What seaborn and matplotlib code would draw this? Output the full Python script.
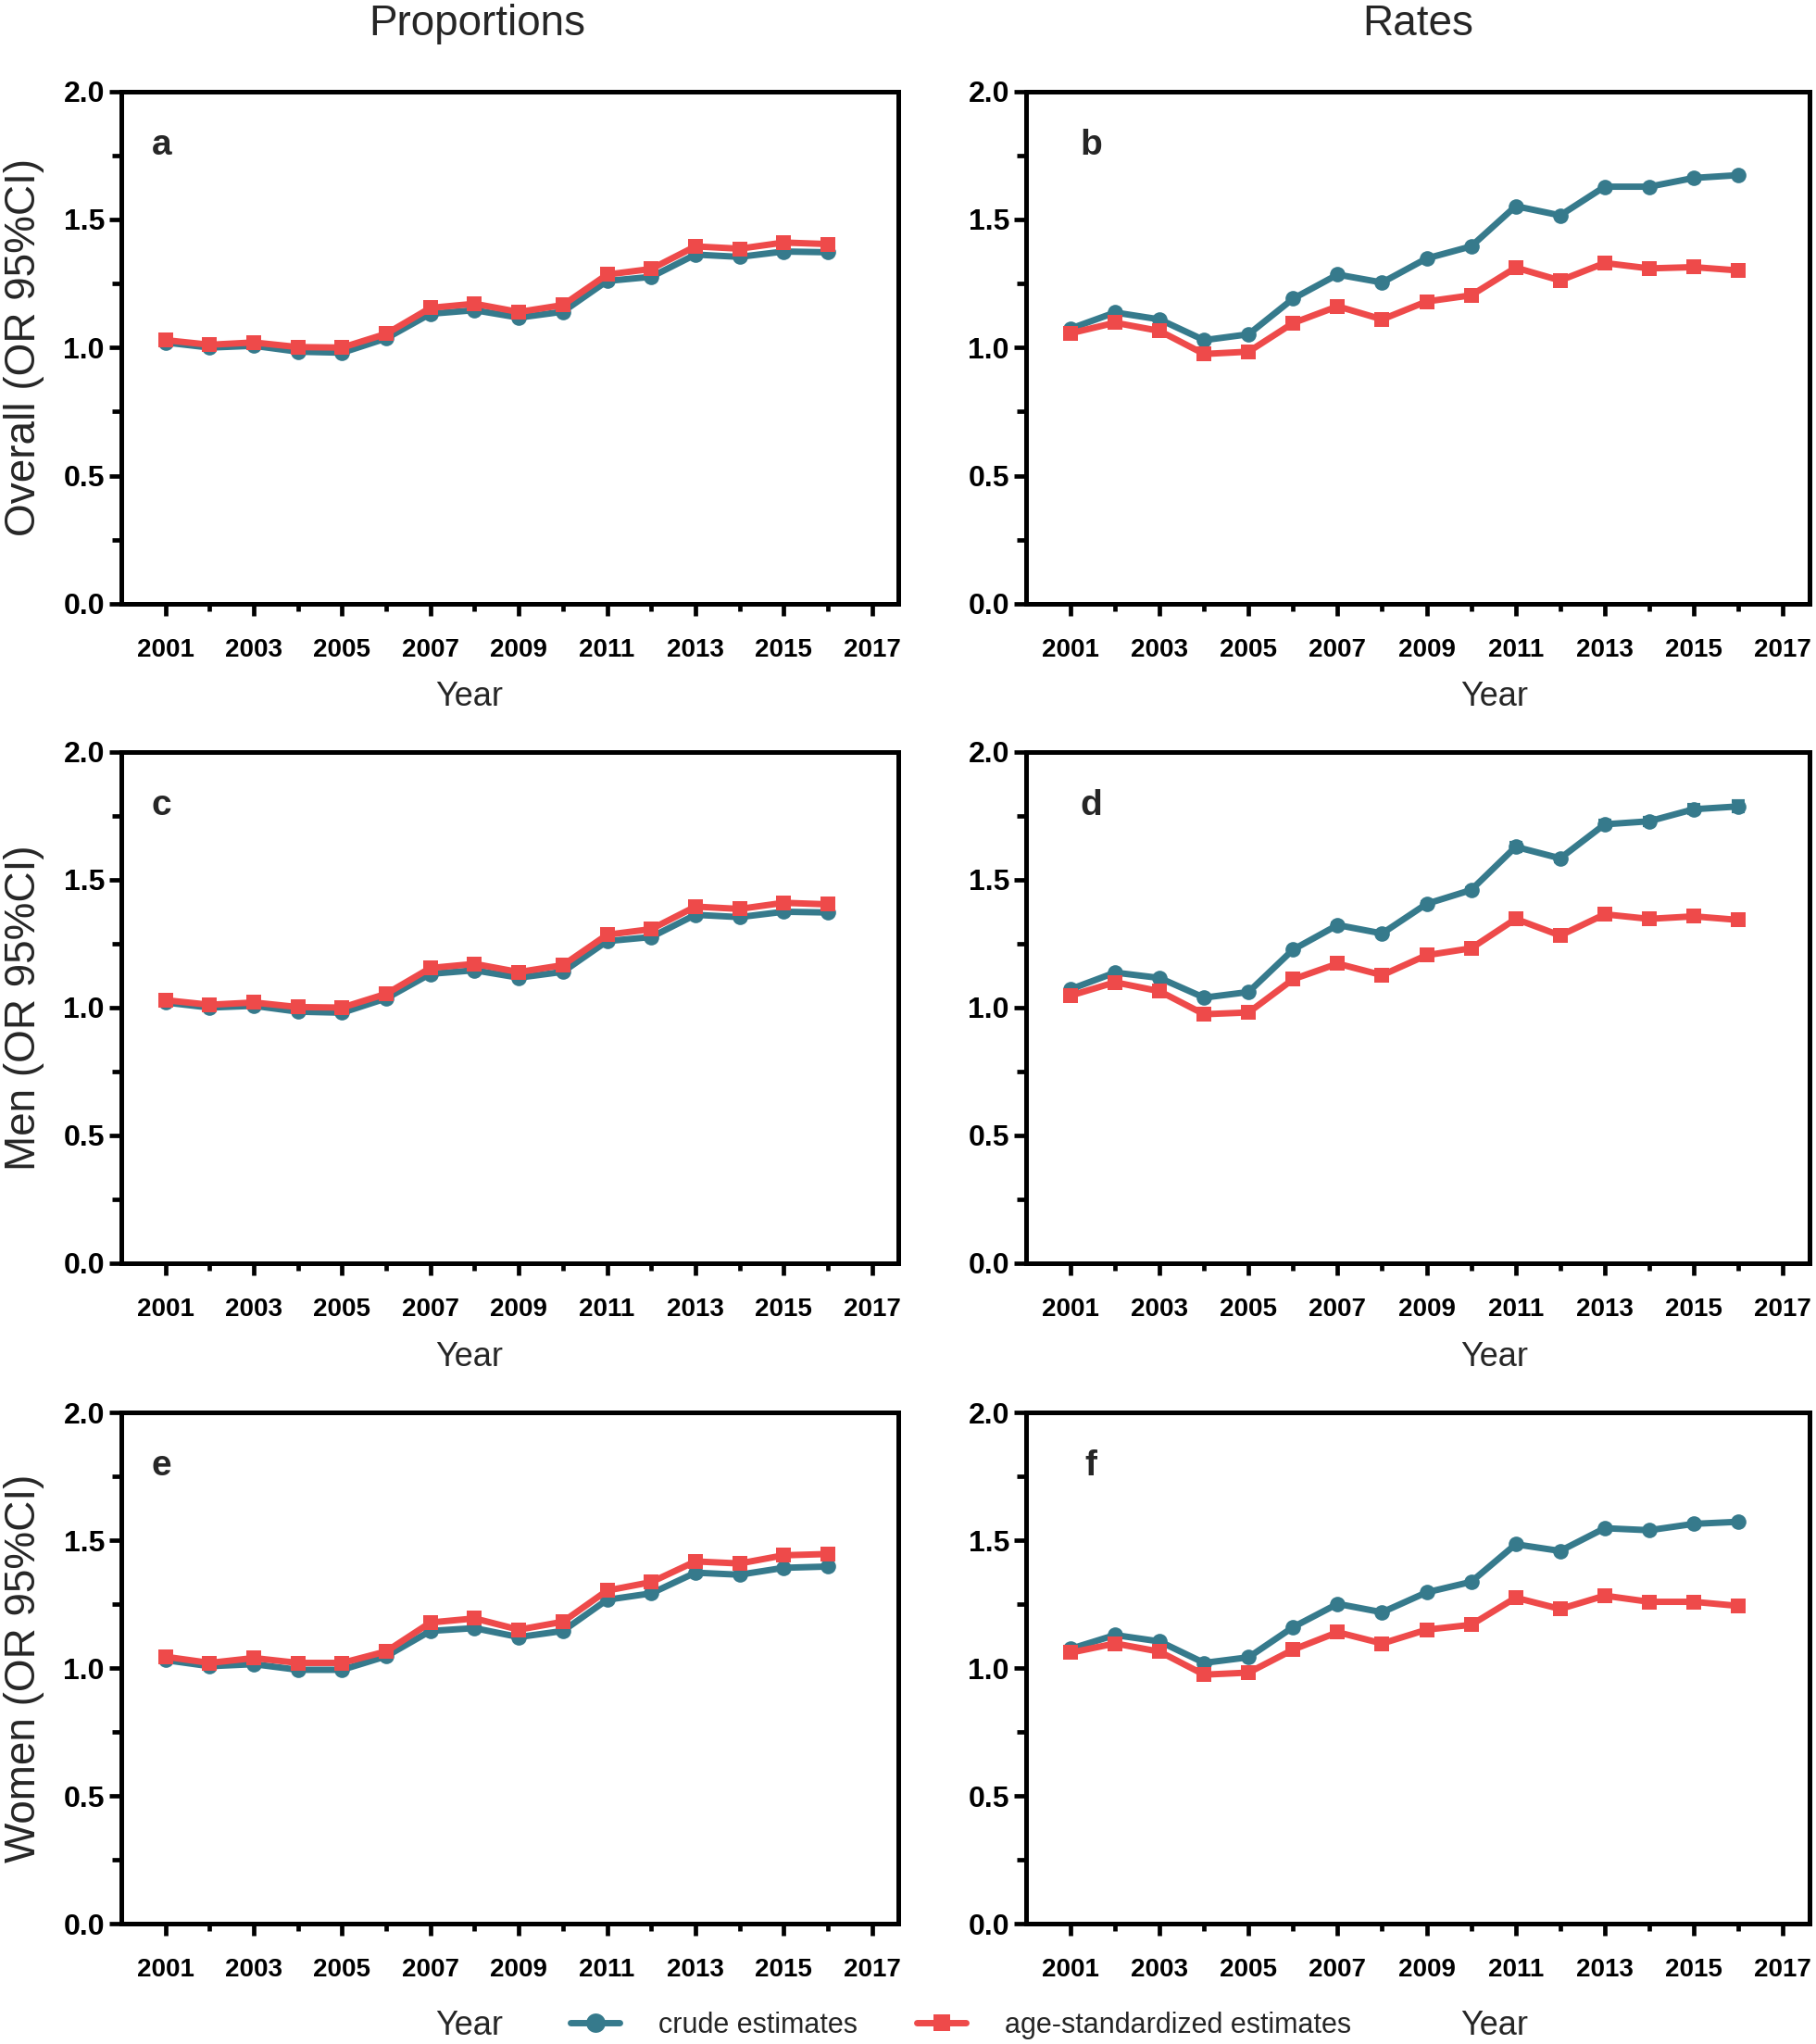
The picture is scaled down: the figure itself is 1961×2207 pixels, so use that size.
import matplotlib
matplotlib.use("Agg")
import matplotlib.pyplot as plt
from matplotlib.lines import Line2D
import numpy as np
import pandas as pd
import seaborn as sns

# ----------------------------
#  Data
# ----------------------------
years = list(range(2001, 2017))

# Proportions, overall
a_crude = [1.02, 1.00, 1.007, 0.984, 0.98, 1.036, 1.132, 1.146, 1.117, 1.14, 1.26, 1.276, 1.363, 1.354, 1.375, 1.372]
a_std   = [1.029, 1.011, 1.02, 1.002, 1.0, 1.054, 1.155, 1.171, 1.139, 1.166, 1.285, 1.307, 1.395, 1.386, 1.41, 1.404]

# Rates, overall
b_crude = [1.074, 1.137, 1.110, 1.029, 1.052, 1.191, 1.285, 1.254, 1.348, 1.395, 1.552, 1.516, 1.628, 1.628, 1.662, 1.673]
b_std   = [1.056, 1.097, 1.065, 0.975, 0.984, 1.096, 1.161, 1.110, 1.180, 1.204, 1.312, 1.262, 1.330, 1.309, 1.314, 1.301]

# Proportions, men
c_crude = [1.02, 1.00, 1.007, 0.984, 0.98, 1.036, 1.132, 1.146, 1.117, 1.14, 1.26, 1.276, 1.363, 1.354, 1.375, 1.372]
c_std   = [1.029, 1.011, 1.02, 1.002, 1.0, 1.054, 1.155, 1.171, 1.139, 1.166, 1.285, 1.307, 1.395, 1.386, 1.41, 1.404]

# Rates, men
d_crude = [1.072, 1.137, 1.116, 1.039, 1.061, 1.227, 1.323, 1.290, 1.406, 1.460, 1.629, 1.584, 1.717, 1.729, 1.776, 1.787]
d_std   = [1.047, 1.099, 1.064, 0.974, 0.981, 1.111, 1.172, 1.127, 1.205, 1.232, 1.347, 1.282, 1.365, 1.347, 1.357, 1.343]
d_crude_ci = [0.005, 0.005, 0.005, 0.005, 0.005, 0.006, 0.007, 0.007, 0.008, 0.009, 0.017, 0.010, 0.015, 0.015, 0.017, 0.019]

# Proportions, women
e_crude = [1.031, 1.007, 1.015, 0.993, 0.993, 1.046, 1.145, 1.156, 1.121, 1.145, 1.267, 1.292, 1.373, 1.365, 1.392, 1.397]
e_std   = [1.044, 1.020, 1.039, 1.020, 1.020, 1.065, 1.178, 1.194, 1.150, 1.181, 1.303, 1.336, 1.417, 1.409, 1.441, 1.446]

# Rates, women
f_crude = [1.075, 1.129, 1.104, 1.020, 1.042, 1.160, 1.251, 1.218, 1.296, 1.337, 1.484, 1.458, 1.547, 1.539, 1.564, 1.572]
f_std   = [1.060, 1.096, 1.064, 0.974, 0.982, 1.072, 1.140, 1.096, 1.150, 1.169, 1.275, 1.231, 1.283, 1.259, 1.259, 1.243]

panel_letters = ["a", "b", "c", "d", "e", "f"]
row_labels = ["Overall (OR 95%CI)", "Men (OR 95%CI)", "Women (OR 95%CI)"]
col_titles = ["Proportions", "Rates"]
series_names = ["crude estimates", "age-standardized estimates"]

BLUE = "#367A8C"
RED = "#EE4A4A"

# ----------------------------
#  Style
# ----------------------------
sns.set_theme(style="ticks")
plt.rcParams["font.family"] = ["Liberation Sans", "DejaVu Sans"]

fig = plt.figure(figsize=(19.61, 22.07), dpi=100)

col_left = [0.0668, 0.565]
col_width = [0.428, 0.4314]
row_bottom = [0.7046, 0.382, 0.0589]
row_height = [0.2507, 0.2501, 0.2501]

letter_x = [0.052, 0.083]
year_x = [0.448, 0.598]
year_y = [-0.150, -0.153, -0.168]

LW = 5
MS = 12

data = [(a_crude, a_std), (b_crude, b_std), (c_crude, c_std),
        (d_crude, d_std), (e_crude, e_std), (f_crude, f_std)]

palette = {series_names[0]: BLUE, series_names[1]: RED}
markers = {series_names[0]: "o", series_names[1]: "s"}

for i, (crude, std) in enumerate(data):
    r, c = divmod(i, 2)
    ax = fig.add_axes([col_left[c], row_bottom[r], col_width[c], row_height[r]])

    df = pd.DataFrame({
        "year": years * 2,
        "or": crude + std,
        "estimate": [series_names[0]] * len(years) + [series_names[1]] * len(years),
    })
    sns.lineplot(data=df, x="year", y="or", hue="estimate", style="estimate",
                 palette=palette, markers=markers, dashes=False, ax=ax,
                 linewidth=LW, markersize=MS, markeredgewidth=0, legend=False)

    if i == 3:
        ax.errorbar(years, crude, yerr=d_crude_ci, fmt="none", ecolor=BLUE,
                    elinewidth=3, capsize=5, capthick=3, zorder=1)

    ax.set_xlim(2000, 2017.6)
    ax.set_ylim(0, 2.0)
    ax.set_xticks(range(2001, 2018, 2))
    ax.set_xticks(range(2002, 2017, 2), minor=True)
    ax.set_yticks(np.arange(0, 2.01, 0.5))
    ax.set_yticks([0.25, 0.75, 1.25, 1.75], minor=True)
    ax.set_yticklabels([f"{v:.1f}" for v in np.arange(0, 2.01, 0.5)])

    for s in ax.spines.values():
        s.set_linewidth(3.6)
        s.set_color("black")
        s.set_visible(True)

    ax.tick_params(axis="x", which="major", length=9.5, width=3.4, pad=17,
                   labelsize=20, direction="out", colors="black")
    ax.tick_params(axis="x", which="minor", length=6, width=3.4, direction="out", colors="black")
    ax.tick_params(axis="y", which="major", length=9.5, width=3.4, pad=3.5,
                   labelsize=23, direction="out", colors="black")
    ax.tick_params(axis="y", which="minor", length=7, width=3.4, direction="out", colors="black")
    for lab in ax.get_xticklabels() + ax.get_yticklabels():
        lab.set_fontweight("bold")

    ax.set_xlabel("Year", fontsize=26)
    ax.xaxis.set_label_coords(year_x[c], year_y[r])
    if c == 0:
        ax.set_ylabel(row_labels[r], fontsize=33)
        ax.yaxis.set_label_coords(-0.099, 0.5)
    else:
        ax.set_ylabel("")

    ax.text(letter_x[c], 0.895, panel_letters[i], transform=ax.transAxes,
            fontsize=28, fontweight="bold", ha="center", va="center")

fig.text(0.263, 0.988, col_titles[0], fontsize=33, ha="center", va="center")
fig.text(0.781, 0.988, col_titles[1], fontsize=33, ha="center", va="center")

handles = [
    Line2D([], [], color=BLUE, marker="o", linewidth=LW, markersize=15, markeredgewidth=0),
    Line2D([], [], color=RED, marker="s", linewidth=LW, markersize=12.5, markeredgewidth=0),
]
fig.legend(handles, series_names, loc="center", bbox_to_anchor=(0.529, 0.009),
           ncol=2, frameon=False, fontsize=22, handlelength=1.75,
           handletextpad=1.35, columnspacing=2.1, borderpad=0)

fig.savefig("out.png", dpi=100)
